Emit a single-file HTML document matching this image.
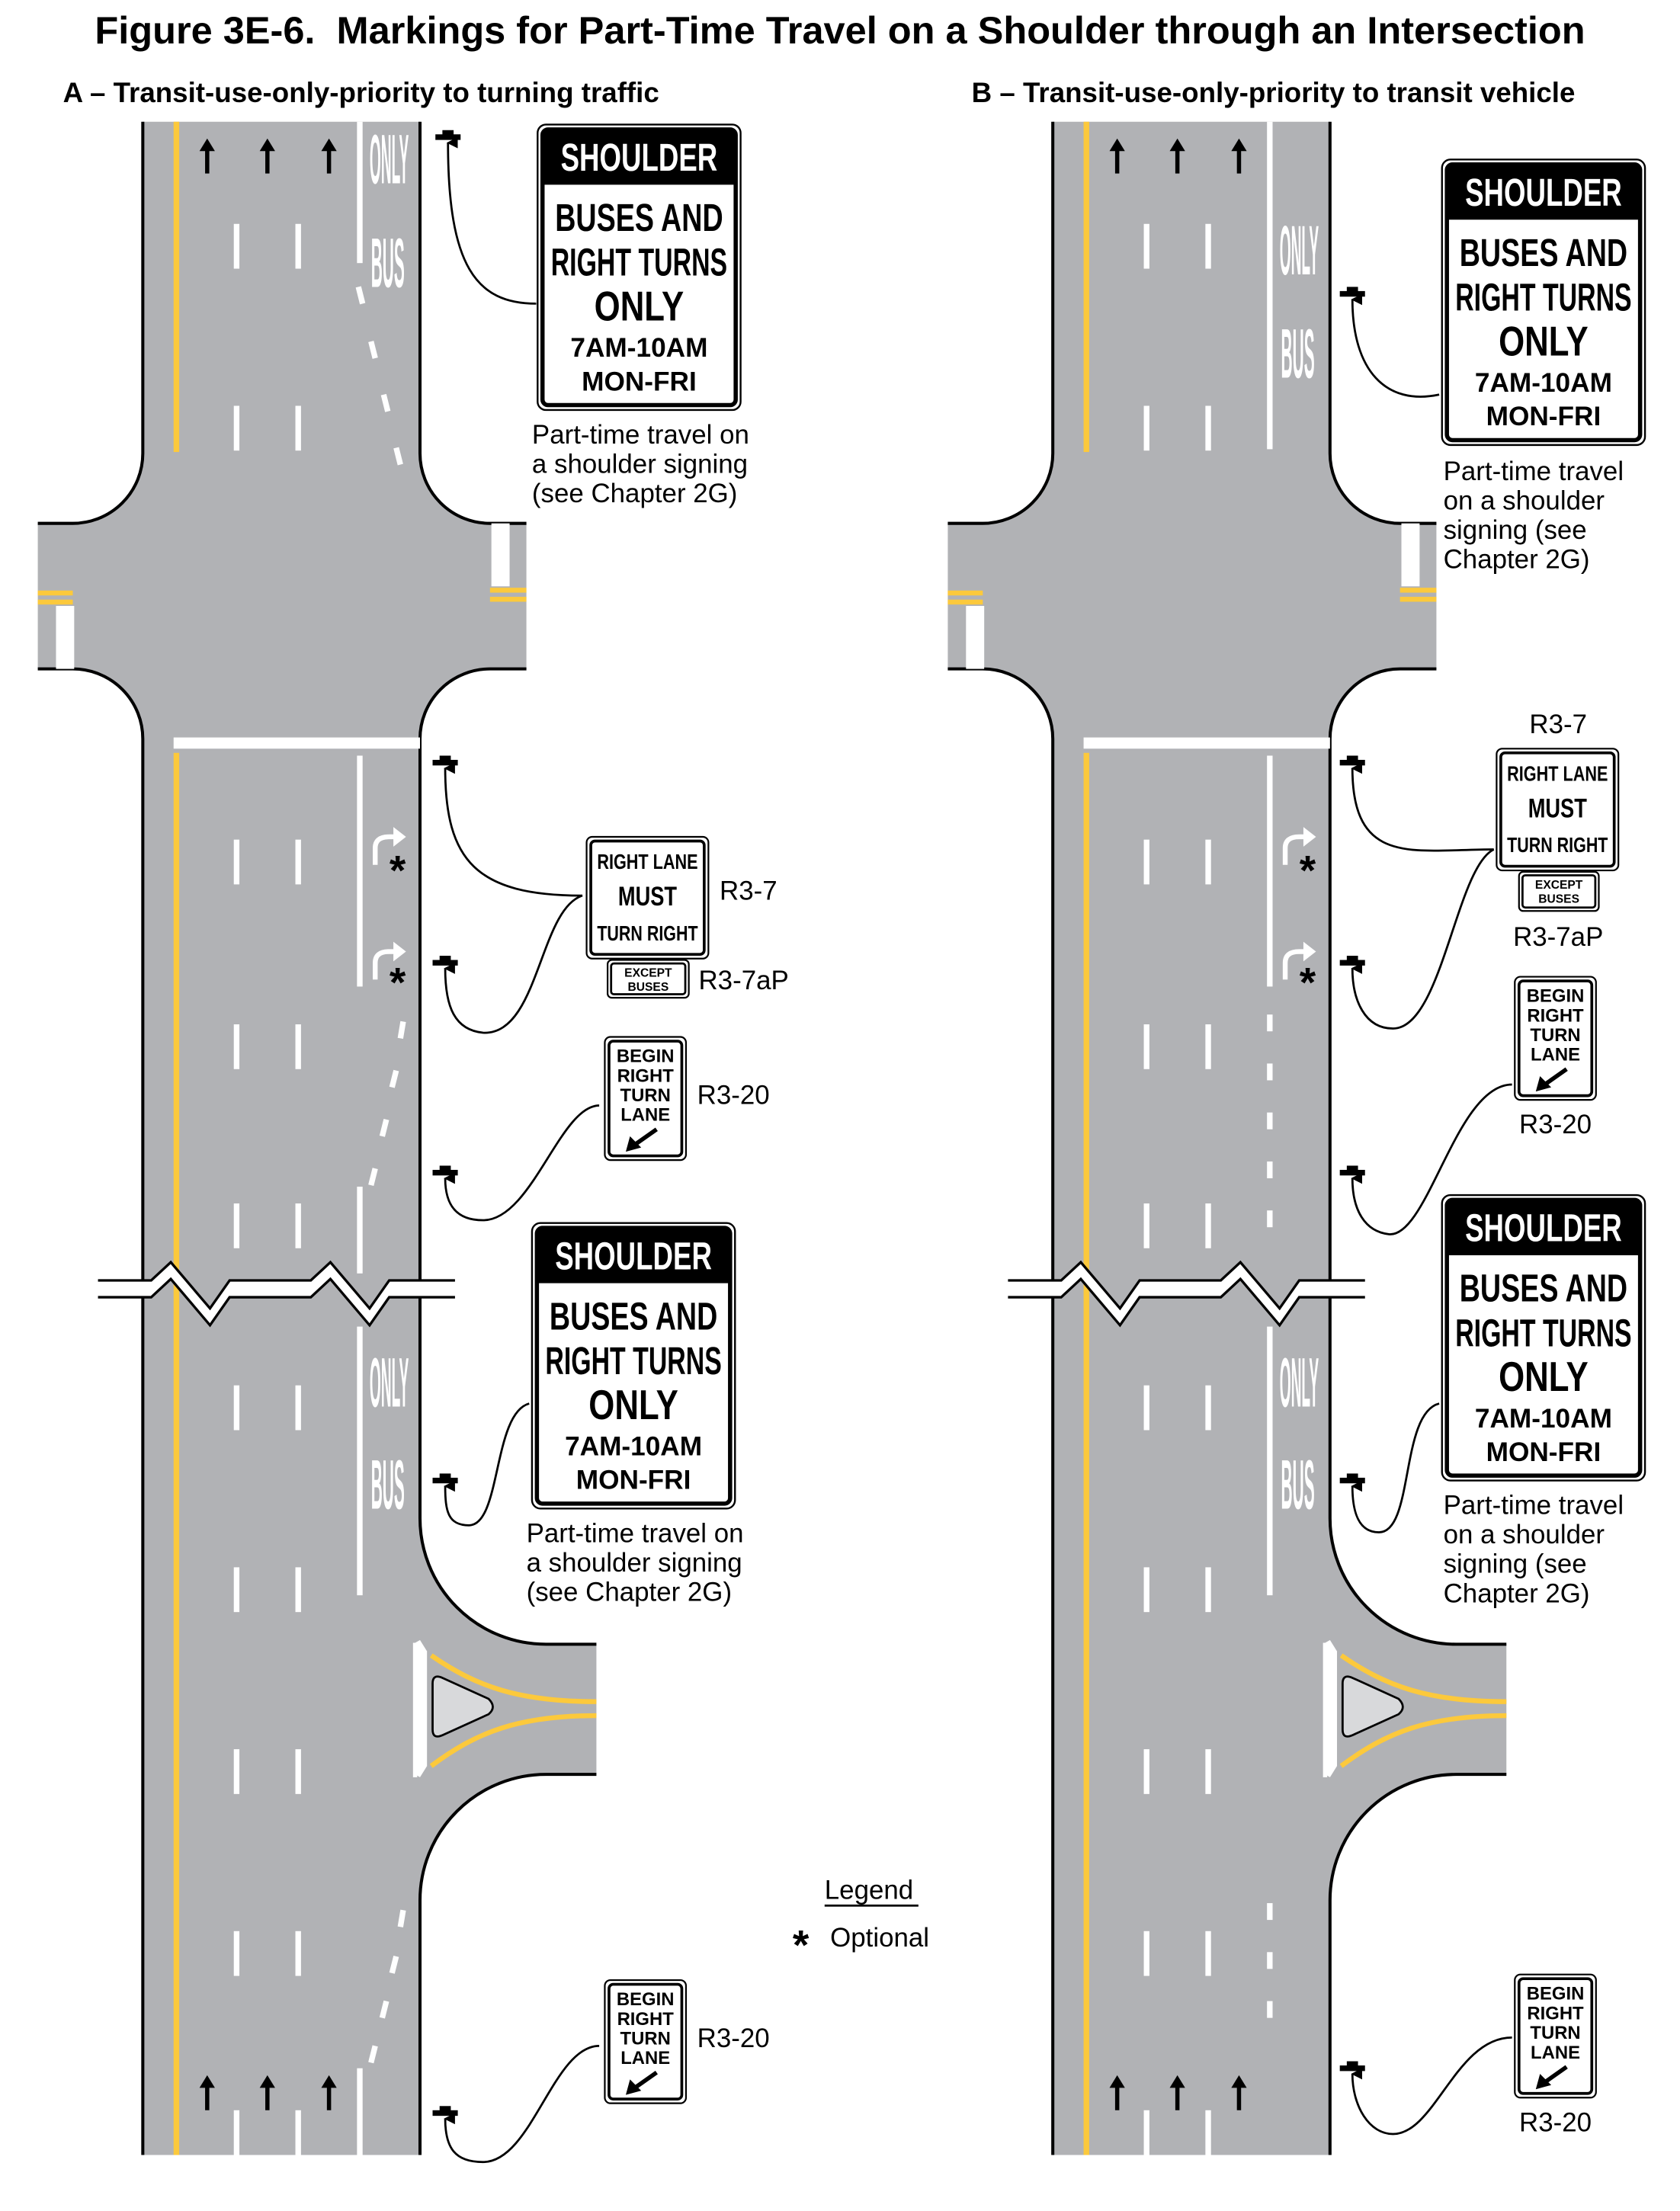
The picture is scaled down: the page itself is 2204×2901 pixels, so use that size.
<!DOCTYPE html>
<html><head><meta charset="utf-8"><style>
html,body{margin:0;padding:0;background:#fff;}
svg{display:block;}
text{font-family:"Liberation Sans",sans-serif;}
</style></head><body>
<svg width="2204" height="2901" viewBox="0 0 1200 1580" preserveAspectRatio="none" xmlns="http://www.w3.org/2000/svg">
<defs>
<marker id="ah" markerWidth="8" markerHeight="8" refX="4" refY="1" orient="auto" markerUnits="userSpaceOnUse" viewBox="0 0 8 8"><path d="M0,8 L4,0 L8,8 Z" fill="#000"/></marker>
<g id="road">
<path d="M102,87 L300,87 L300,324 A50,50 0 0 0 350,374 L376,374 L376,478 L350,478 A50,50 0 0 0 300,528 L300,1085 A90,90 0 0 0 390,1175 L426,1175 L426,1268 L390,1268 A90,90 0 0 0 300,1358 L300,1540 L102,1540 L102,528 A50,50 0 0 0 52,478 L27,478 L27,374 L52,374 A50,50 0 0 0 102,324 Z" fill="#b1b2b5"/>
<path d="M102,87 L102,324 A50,50 0 0 1 52,374 L27,374 M27,478 L52,478 A50,50 0 0 1 102,528 L102,1540 M300,87 L300,324 A50,50 0 0 0 350,374 L376,374 M376,478 L350,478 A50,50 0 0 0 300,528 L300,1085 A90,90 0 0 0 390,1175 L426,1175 M426,1268 L390,1268 A90,90 0 0 0 300,1358 L300,1540" fill="none" stroke="#000" stroke-width="2.2"/>
<rect x="124" y="87" width="4" height="236" fill="#fcc93c"/>
<rect x="124" y="538" width="4" height="1002" fill="#fcc93c"/>
<rect x="27" y="422" width="25" height="3.5" fill="#fcc93c"/>
<rect x="27" y="428.5" width="25" height="3.5" fill="#fcc93c"/>
<rect x="350" y="420" width="26" height="3.5" fill="#fcc93c"/>
<rect x="350" y="426.5" width="26" height="3.5" fill="#fcc93c"/>
<rect x="40" y="433" width="13" height="45" fill="#fff"/>
<rect x="351" y="374" width="13" height="45" fill="#fff"/>
<rect x="124" y="527" width="176" height="8" fill="#fff"/>
<g fill="#fff">
<rect x="167" y="160" width="4" height="32"/><rect x="211" y="160" width="4" height="32"/>
<rect x="167" y="290" width="4" height="32"/><rect x="211" y="290" width="4" height="32"/>
<rect x="167" y="600" width="4" height="32"/><rect x="211" y="600" width="4" height="32"/>
<rect x="167" y="732" width="4" height="32"/><rect x="211" y="732" width="4" height="32"/>
<rect x="167" y="860" width="4" height="32"/><rect x="211" y="860" width="4" height="32"/>
<rect x="167" y="990" width="4" height="32"/><rect x="211" y="990" width="4" height="32"/>
<rect x="167" y="1120" width="4" height="32"/><rect x="211" y="1120" width="4" height="32"/>
<rect x="167" y="1250" width="4" height="32"/><rect x="211" y="1250" width="4" height="32"/>
<rect x="167" y="1380" width="4" height="32"/><rect x="211" y="1380" width="4" height="32"/>
<rect x="167" y="1508" width="4" height="32"/><rect x="211" y="1508" width="4" height="32"/>
</g>
<g fill="#000">
<path d="M146.5,124 L146.5,108 L142.5,108 L148,99 L153.5,108 L149.5,108 L149.5,124 Z"/>
<path d="M189.5,124 L189.5,108 L185.5,108 L191,99 L196.5,108 L192.5,108 L192.5,124 Z"/>
<path d="M233.5,124 L233.5,108 L229.5,108 L235,99 L240.5,108 L236.5,108 L236.5,124 Z"/>
<path d="M146.5,1508 L146.5,1492 L142.5,1492 L148,1483 L153.5,1492 L149.5,1492 L149.5,1508 Z"/>
<path d="M189.5,1508 L189.5,1492 L185.5,1492 L191,1483 L196.5,1492 L192.5,1492 L192.5,1508 Z"/>
<path d="M233.5,1508 L233.5,1492 L229.5,1492 L235,1483 L240.5,1492 L236.5,1492 L236.5,1508 Z"/>
</g>
<g fill="none" stroke="#fff" stroke-width="3.5">
<path d="M268,618 L268,606 Q268,598 278,598 L282,598"/>
<path d="M268,700 L268,688 Q268,680 278,680 L282,680"/>
</g>
<path d="M281,591 L290,598 L281,605 Z" fill="#fff"/>
<path d="M281,673 L290,680 L281,687 Z" fill="#fff"/>
<text x="284" y="632" font-size="30" font-weight="bold" text-anchor="middle" fill="#000">*</text>
<text x="284" y="712" font-size="30" font-weight="bold" text-anchor="middle" fill="#000">*</text>
<path d="M296.5,1174 L300,1172 L305,1180 L305,1262 L300,1270 L296.5,1268 Z" fill="#fff"/>
<path d="M296.5,1174 L296.5,1270" stroke="#fff" stroke-width="3"/>
<path d="M308,1183 C340,1205 370,1216 426,1216" fill="none" stroke="#fcc93c" stroke-width="3.5"/>
<path d="M308,1262 C340,1238 370,1226 426,1226" fill="none" stroke="#fcc93c" stroke-width="3.5"/>
<path d="M309,1203 Q309,1196 316,1199 L349,1214 Q355,1220 349,1225 L316,1240 Q309,1243 309,1236 Z" fill="#d8d9db" stroke="#000" stroke-width="1.5"/>
<path d="M70,915 L108,915 L122,902 L150,935 L164,915 L222,915 L236,902 L264,935 L278,915 L325,915 L325,927 L278,927 L264,947 L236,914 L222,927 L164,927 L150,947 L122,914 L108,927 L70,927 Z" fill="#fff"/>
<path d="M70,915 L108,915 L122,902 L150,935 L164,915 L222,915 L236,902 L264,935 L278,915 L325,915 M70,927 L108,927 L122,914 L150,947 L164,927 L222,927 L236,914 L264,947 L278,927 L325,927" fill="none" stroke="#000" stroke-width="1.8"/>
</g>
<g id="post"><rect x="-9" y="-2" width="18" height="4" fill="#000"/><rect x="-4" y="-5" width="8" height="4" fill="#000"/></g>
</defs>

<text x="600" y="31" font-size="27.5" font-weight="bold" text-anchor="middle">Figure 3E-6.&#160; Markings for Part-Time Travel on a Shoulder through an Intersection</text>
<text x="45" y="73" font-size="20" font-weight="bold">A – Transit-use-only-priority to turning traffic</text>
<text x="694" y="73" font-size="20" font-weight="bold">B – Transit-use-only-priority to transit vehicle</text>

<use href="#road"/>
<g fill="#fff">
<rect x="255" y="87" width="4" height="101"/>
<rect x="255" y="540" width="4" height="165"/>
<rect x="255" y="848" width="4" height="62"/>
<rect x="255" y="948" width="4" height="192"/>
<rect x="255" y="1478" width="4" height="62"/>
</g>
<g stroke="#fff" stroke-width="4" fill="none">
<path d="M256,205 L259,217 M265,244 L268,256 M274,282 L277,294 M283,320 L286,332"/>
<path d="M288,730 L286,742 M283,765 L280,777 M276,800 L273,812 M268,835 L265,847"/>
<path d="M288,1365 L286,1377 M283,1398 L280,1410 M276,1430 L273,1442 M268,1462 L265,1474"/>
</g>
<g fill="#fff" font-weight="bold" font-size="50">
<text x="264" y="131" textLength="28" lengthAdjust="spacingAndGlyphs">ONLY</text>
<text x="265" y="205" textLength="24" lengthAdjust="spacingAndGlyphs">BUS</text>
<text x="264" y="1005" textLength="28" lengthAdjust="spacingAndGlyphs">ONLY</text>
<text x="265" y="1078" textLength="24" lengthAdjust="spacingAndGlyphs">BUS</text>
</g>

<use href="#road" x="650"/>
<g fill="#fff">
<rect x="905" y="87" width="4" height="234"/>
<rect x="905" y="540" width="4" height="165"/>
<rect x="905" y="948" width="4" height="192"/>
<rect x="905" y="725" width="4" height="12"/><rect x="905" y="760" width="4" height="12"/>
<rect x="905" y="795" width="4" height="12"/><rect x="905" y="830" width="4" height="12"/>
<rect x="905" y="865" width="4" height="12"/>
<rect x="905" y="1360" width="4" height="12"/><rect x="905" y="1395" width="4" height="12"/>
<rect x="905" y="1430" width="4" height="12"/>
</g>
<g fill="#fff" font-weight="bold" font-size="50">
<text x="914" y="196" textLength="28" lengthAdjust="spacingAndGlyphs">ONLY</text>
<text x="915" y="270" textLength="24" lengthAdjust="spacingAndGlyphs">BUS</text>
<text x="914" y="1005" textLength="28" lengthAdjust="spacingAndGlyphs">ONLY</text>
<text x="915" y="1078" textLength="24" lengthAdjust="spacingAndGlyphs">BUS</text>
</g>

<use href="#post" x="320" y="98"/>
<use href="#post" x="318" y="545"/>
<use href="#post" x="318" y="688"/>
<use href="#post" x="318" y="838"/>
<use href="#post" x="318" y="1058"/>
<use href="#post" x="318" y="1510"/>
<use href="#post" x="966" y="210"/>
<use href="#post" x="966" y="545"/>
<use href="#post" x="966" y="688"/>
<use href="#post" x="966" y="838"/>
<use href="#post" x="966" y="1058"/>
<use href="#post" x="966" y="1478"/>

<g fill="none" stroke="#000" stroke-width="1.5" marker-end="url(#ah)">
<path d="M383,217 C340,217 320,190 320,102"/>
<path d="M416,640 C340,640 318,615 318,549"/>
<path d="M416,640 C385,650 385,740 345,738 C325,736 318,720 318,692"/>
<path d="M428,790 C400,790 380,872 345,872 C325,872 318,860 318,842"/>
<path d="M378,1003 C352,1010 358,1090 335,1090 C320,1090 318,1080 318,1062"/>
<path d="M428,1462 C395,1462 380,1545 345,1545 C325,1545 318,1535 318,1514"/>
<path d="M1028,282 C990,290 966,265 966,214"/>
<path d="M1067,607 C1010,607 966,620 966,549"/>
<path d="M1067,607 C1040,620 1030,735 995,735 C975,735 966,715 966,692"/>
<path d="M1080,775 C1040,775 1020,885 992,882 C975,880 966,865 966,842"/>
<path d="M1028,1003 C1000,1010 1010,1095 985,1095 C970,1095 966,1080 966,1062"/>
<path d="M1080,1456 C1040,1456 1025,1525 995,1525 C978,1525 966,1505 966,1482"/>
</g>

<g transform="translate(384,89)">
<rect x="0" y="0" width="145" height="204" rx="6" fill="#fff" stroke="#000" stroke-width="1.3"/>
<rect x="3.5" y="3.5" width="138" height="197" rx="4" fill="#fff" stroke="#000" stroke-width="3"/>
<path d="M3.5,7.5 Q3.5,3.5 7.5,3.5 L137.5,3.5 Q141.5,3.5 141.5,7.5 L141.5,43 L3.5,43 Z" fill="#000"/>
<g font-weight="bold" text-anchor="middle" font-size="28">
<text x="72.5" y="33" fill="#fff" textLength="112" lengthAdjust="spacingAndGlyphs">SHOULDER</text>
<text x="72.5" y="76" textLength="120" lengthAdjust="spacingAndGlyphs">BUSES AND</text>
<text x="72.5" y="108" textLength="126" lengthAdjust="spacingAndGlyphs">RIGHT TURNS</text>
<text x="72.5" y="140" font-size="30" textLength="64" lengthAdjust="spacingAndGlyphs">ONLY</text>
<text x="72.5" y="166" font-size="19" textLength="98" lengthAdjust="spacingAndGlyphs">7AM-10AM</text>
<text x="72.5" y="190" font-size="19" textLength="82" lengthAdjust="spacingAndGlyphs">MON-FRI</text>
</g>
</g>
<g transform="translate(380,874)">
<rect x="0" y="0" width="145" height="204" rx="6" fill="#fff" stroke="#000" stroke-width="1.3"/>
<rect x="3.5" y="3.5" width="138" height="197" rx="4" fill="#fff" stroke="#000" stroke-width="3"/>
<path d="M3.5,7.5 Q3.5,3.5 7.5,3.5 L137.5,3.5 Q141.5,3.5 141.5,7.5 L141.5,43 L3.5,43 Z" fill="#000"/>
<g font-weight="bold" text-anchor="middle" font-size="28">
<text x="72.5" y="33" fill="#fff" textLength="112" lengthAdjust="spacingAndGlyphs">SHOULDER</text>
<text x="72.5" y="76" textLength="120" lengthAdjust="spacingAndGlyphs">BUSES AND</text>
<text x="72.5" y="108" textLength="126" lengthAdjust="spacingAndGlyphs">RIGHT TURNS</text>
<text x="72.5" y="140" font-size="30" textLength="64" lengthAdjust="spacingAndGlyphs">ONLY</text>
<text x="72.5" y="166" font-size="19" textLength="98" lengthAdjust="spacingAndGlyphs">7AM-10AM</text>
<text x="72.5" y="190" font-size="19" textLength="82" lengthAdjust="spacingAndGlyphs">MON-FRI</text>
</g>
</g>
<g transform="translate(1030,114)">
<rect x="0" y="0" width="145" height="204" rx="6" fill="#fff" stroke="#000" stroke-width="1.3"/>
<rect x="3.5" y="3.5" width="138" height="197" rx="4" fill="#fff" stroke="#000" stroke-width="3"/>
<path d="M3.5,7.5 Q3.5,3.5 7.5,3.5 L137.5,3.5 Q141.5,3.5 141.5,7.5 L141.5,43 L3.5,43 Z" fill="#000"/>
<g font-weight="bold" text-anchor="middle" font-size="28">
<text x="72.5" y="33" fill="#fff" textLength="112" lengthAdjust="spacingAndGlyphs">SHOULDER</text>
<text x="72.5" y="76" textLength="120" lengthAdjust="spacingAndGlyphs">BUSES AND</text>
<text x="72.5" y="108" textLength="126" lengthAdjust="spacingAndGlyphs">RIGHT TURNS</text>
<text x="72.5" y="140" font-size="30" textLength="64" lengthAdjust="spacingAndGlyphs">ONLY</text>
<text x="72.5" y="166" font-size="19" textLength="98" lengthAdjust="spacingAndGlyphs">7AM-10AM</text>
<text x="72.5" y="190" font-size="19" textLength="82" lengthAdjust="spacingAndGlyphs">MON-FRI</text>
</g>
</g>
<g transform="translate(1030,854)">
<rect x="0" y="0" width="145" height="204" rx="6" fill="#fff" stroke="#000" stroke-width="1.3"/>
<rect x="3.5" y="3.5" width="138" height="197" rx="4" fill="#fff" stroke="#000" stroke-width="3"/>
<path d="M3.5,7.5 Q3.5,3.5 7.5,3.5 L137.5,3.5 Q141.5,3.5 141.5,7.5 L141.5,43 L3.5,43 Z" fill="#000"/>
<g font-weight="bold" text-anchor="middle" font-size="28">
<text x="72.5" y="33" fill="#fff" textLength="112" lengthAdjust="spacingAndGlyphs">SHOULDER</text>
<text x="72.5" y="76" textLength="120" lengthAdjust="spacingAndGlyphs">BUSES AND</text>
<text x="72.5" y="108" textLength="126" lengthAdjust="spacingAndGlyphs">RIGHT TURNS</text>
<text x="72.5" y="140" font-size="30" textLength="64" lengthAdjust="spacingAndGlyphs">ONLY</text>
<text x="72.5" y="166" font-size="19" textLength="98" lengthAdjust="spacingAndGlyphs">7AM-10AM</text>
<text x="72.5" y="190" font-size="19" textLength="82" lengthAdjust="spacingAndGlyphs">MON-FRI</text>
</g>
</g>

<g font-size="19" fill="#000">
<text x="380" y="317">Part-time travel on</text>
<text x="380" y="338">a shoulder signing</text>
<text x="380" y="359">(see Chapter 2G)</text>
<text x="376" y="1102">Part-time travel on</text>
<text x="376" y="1123">a shoulder signing</text>
<text x="376" y="1144">(see Chapter 2G)</text>
<text x="1031" y="343">Part-time travel</text>
<text x="1031" y="364">on a shoulder</text>
<text x="1031" y="385">signing (see</text>
<text x="1031" y="406">Chapter 2G)</text>
<text x="1031" y="1082">Part-time travel</text>
<text x="1031" y="1103">on a shoulder</text>
<text x="1031" y="1124">signing (see</text>
<text x="1031" y="1145">Chapter 2G)</text>
<text x="514" y="643">R3-7</text>
<text x="499" y="707">R3-7aP</text>
<text x="498" y="789">R3-20</text>
<text x="498" y="1463">R3-20</text>
<text x="1113" y="524" text-anchor="middle">R3-7</text>
<text x="1113" y="676" text-anchor="middle">R3-7aP</text>
<text x="1111" y="810" text-anchor="middle">R3-20</text>
<text x="1111" y="1523" text-anchor="middle">R3-20</text>
<text x="589" y="1357">Legend</text>
<text x="593" y="1391">Optional</text>
</g>
<rect x="589" y="1361" width="67" height="1.5" fill="#000"/>
<text x="572" y="1400" font-size="30" font-weight="bold" text-anchor="middle">*</text>

<g transform="translate(419,598)">
<rect x="0" y="0" width="87" height="87" rx="4" fill="#fff" stroke="#000" stroke-width="1.2"/>
<rect x="3" y="3" width="81" height="81" rx="3" fill="none" stroke="#000" stroke-width="2"/>
<g font-weight="bold" text-anchor="middle">
<text x="43.5" y="23" font-size="15" textLength="72" lengthAdjust="spacingAndGlyphs">RIGHT LANE</text>
<text x="43.5" y="49" font-size="19" textLength="42" lengthAdjust="spacingAndGlyphs">MUST</text>
<text x="43.5" y="74" font-size="15" textLength="72" lengthAdjust="spacingAndGlyphs">TURN RIGHT</text>
</g>
</g>
<g transform="translate(434,686)">
<rect x="0" y="0" width="58" height="27" rx="3" fill="#fff" stroke="#000" stroke-width="1.2"/>
<rect x="2.5" y="2.5" width="53" height="22" rx="2" fill="none" stroke="#000" stroke-width="1.5"/>
<text x="29" y="12" font-size="8.5" font-weight="bold" text-anchor="middle">EXCEPT</text>
<text x="29" y="22" font-size="8.5" font-weight="bold" text-anchor="middle">BUSES</text>
</g>
<g transform="translate(1069,535)">
<rect x="0" y="0" width="87" height="87" rx="4" fill="#fff" stroke="#000" stroke-width="1.2"/>
<rect x="3" y="3" width="81" height="81" rx="3" fill="none" stroke="#000" stroke-width="2"/>
<g font-weight="bold" text-anchor="middle">
<text x="43.5" y="23" font-size="15" textLength="72" lengthAdjust="spacingAndGlyphs">RIGHT LANE</text>
<text x="43.5" y="49" font-size="19" textLength="42" lengthAdjust="spacingAndGlyphs">MUST</text>
<text x="43.5" y="74" font-size="15" textLength="72" lengthAdjust="spacingAndGlyphs">TURN RIGHT</text>
</g>
</g>
<g transform="translate(1085,623)">
<rect x="0" y="0" width="57" height="28" rx="3" fill="#fff" stroke="#000" stroke-width="1.2"/>
<rect x="2.5" y="2.5" width="52" height="23" rx="2" fill="none" stroke="#000" stroke-width="1.5"/>
<text x="28.5" y="12" font-size="8.5" font-weight="bold" text-anchor="middle">EXCEPT</text>
<text x="28.5" y="22" font-size="8.5" font-weight="bold" text-anchor="middle">BUSES</text>
</g>

<g transform="translate(432,741)">
<rect x="0" y="0" width="58" height="88" rx="4" fill="#fff" stroke="#000" stroke-width="1.2"/>
<rect x="3" y="3" width="52" height="82" rx="3" fill="none" stroke="#000" stroke-width="2"/>
<g font-weight="bold" text-anchor="middle" font-size="13">
<text x="29" y="18">BEGIN</text><text x="29" y="32">RIGHT</text><text x="29" y="46">TURN</text><text x="29" y="60">LANE</text>
</g>
<path d="M37,66 L20,78" stroke="#000" stroke-width="3"/><path d="M15,82 L18,71 L26,79 Z" fill="#000"/>
</g>
<g transform="translate(432,1415)">
<rect x="0" y="0" width="58" height="88" rx="4" fill="#fff" stroke="#000" stroke-width="1.2"/>
<rect x="3" y="3" width="52" height="82" rx="3" fill="none" stroke="#000" stroke-width="2"/>
<g font-weight="bold" text-anchor="middle" font-size="13">
<text x="29" y="18">BEGIN</text><text x="29" y="32">RIGHT</text><text x="29" y="46">TURN</text><text x="29" y="60">LANE</text>
</g>
<path d="M37,66 L20,78" stroke="#000" stroke-width="3"/><path d="M15,82 L18,71 L26,79 Z" fill="#000"/>
</g>
<g transform="translate(1082,698)">
<rect x="0" y="0" width="58" height="88" rx="4" fill="#fff" stroke="#000" stroke-width="1.2"/>
<rect x="3" y="3" width="52" height="82" rx="3" fill="none" stroke="#000" stroke-width="2"/>
<g font-weight="bold" text-anchor="middle" font-size="13">
<text x="29" y="18">BEGIN</text><text x="29" y="32">RIGHT</text><text x="29" y="46">TURN</text><text x="29" y="60">LANE</text>
</g>
<path d="M37,66 L20,78" stroke="#000" stroke-width="3"/><path d="M15,82 L18,71 L26,79 Z" fill="#000"/>
</g>
<g transform="translate(1082,1411)">
<rect x="0" y="0" width="58" height="88" rx="4" fill="#fff" stroke="#000" stroke-width="1.2"/>
<rect x="3" y="3" width="52" height="82" rx="3" fill="none" stroke="#000" stroke-width="2"/>
<g font-weight="bold" text-anchor="middle" font-size="13">
<text x="29" y="18">BEGIN</text><text x="29" y="32">RIGHT</text><text x="29" y="46">TURN</text><text x="29" y="60">LANE</text>
</g>
<path d="M37,66 L20,78" stroke="#000" stroke-width="3"/><path d="M15,82 L18,71 L26,79 Z" fill="#000"/>
</g>
</svg>
</body></html>
